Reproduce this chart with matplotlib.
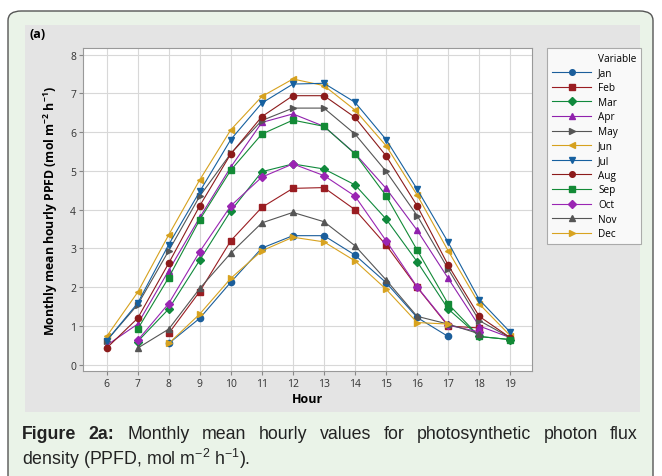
import matplotlib
matplotlib.use("Agg")
import matplotlib.pyplot as plt
from matplotlib.patches import FancyBboxPatch, Rectangle
from matplotlib.lines import Line2D
import numpy as np

nan = np.nan
hours = [6, 7, 8, 9, 10, 11, 12, 13, 14, 15, 16, 17, 18, 19]
months = ["Jan", "Feb", "Mar", "Apr", "May", "Jun", "Jul", "Aug", "Sep", "Oct", "Nov", "Dec"]

jan = [nan, nan, 0.55, 1.20, 2.13, 3.01, 3.33, 3.33, 2.83, 2.12, 1.22, 0.73, nan, nan]
feb = [nan, nan, 0.81, 1.89, 3.20, 4.06, 4.55, 4.57, 4.00, 3.09, 2.00, 1.00, 0.95, nan]
mar = [nan, 0.60, 1.44, 2.70, 3.97, 4.98, 5.18, 5.05, 4.64, 3.76, 2.66, 1.44, 0.73, 0.65]
apr = [0.50, 1.05, 2.43, 3.80, 5.10, 6.25, 6.47, 6.15, 5.45, 4.55, 3.47, 2.23, 1.00, 0.70]
may = [0.62, 1.55, 2.94, 4.35, 5.45, 6.30, 6.62, 6.62, 5.95, 4.99, 3.85, 2.47, 1.14, 0.70]
jun = [0.73, 1.87, 3.35, 4.77, 6.06, 6.92, 7.37, 7.20, 6.57, 5.65, 4.38, 2.94, 1.57, 0.75]
jul = [0.62, 1.59, 3.10, 4.47, 5.81, 6.75, 7.24, 7.26, 6.77, 5.81, 4.53, 3.16, 1.68, 0.84]
aug = [0.43, 1.20, 2.62, 4.10, 5.44, 6.40, 6.94, 6.94, 6.38, 5.39, 4.10, 2.57, 1.25, 0.70]
sep = [nan, 0.92, 2.25, 3.74, 5.02, 5.95, 6.31, 6.15, 5.44, 4.36, 2.96, 1.57, 0.73, 0.65]
oct_ = [nan, 0.63, 1.58, 2.92, 4.10, 4.84, 5.18, 4.88, 4.35, 3.20, 2.01, 1.02, 0.85, nan]
nov = [nan, 0.43, 0.92, 1.97, 2.88, 3.66, 3.93, 3.69, 3.07, 2.19, 1.25, 1.05, 0.80, nan]
dec = [nan, nan, 0.55, 1.31, 2.23, 2.94, 3.29, 3.17, 2.68, 1.95, 1.09, 1.05, nan, nan]
series = [jan, feb, mar, apr, may, jun, jul, aug, sep, oct_, nov, dec]

colors = ["#1b5e9b", "#9a1d22", "#10893c", "#9021ad", "#555555", "#d6a11e",
          "#16609f", "#8c1b1b", "#138a36", "#9a25b3", "#555555", "#d8a320"]
markers = ["o", "s", "D", "^", ">", "<", "v", "o", "s", "D", "^", ">"]
msizes = [4.5, 4.3, 4.0, 4.8, 4.8, 4.8, 4.8, 4.5, 4.3, 4.0, 4.8, 4.8]

plt.rcParams["font.family"] = ["Open Sans", "DejaVu Sans"]
plt.rcParams["mathtext.default"] = "regular"

W, H = 662, 477
fig = plt.figure(figsize=(W / 100, H / 100), dpi=100)
fig.patch.set_facecolor("white")

# outer rounded box and grey plot panel
fig.patches.append(FancyBboxPatch((8 / W, -0.2), 645 / W, (H - 12) / H + 0.2,
                                  boxstyle="round,pad=0,rounding_size=0.02",
                                  transform=fig.transFigure, facecolor="#eaf3e8",
                                  edgecolor="#555555", linewidth=1.0, zorder=-3))
fig.patches.append(Rectangle((25 / W, (H - 413) / H), 615 / W, 387 / H,
                             transform=fig.transFigure, facecolor="#e4e4e4",
                             edgecolor="none", zorder=-2))

ax = fig.add_axes([83 / W, (H - 372) / H, 449 / W, 323 / H])
ax.set_facecolor("white")
for s, c, m, ms, mo in zip(series, colors, markers, msizes, months):
    ax.plot(hours, s, color=c, marker=m, markersize=ms, linewidth=0.8, label=mo)

ax.set_xlim(5.24, 19.7)
ax.set_ylim(-0.16, 8.17)
ax.set_xticks(hours)
ax.set_yticks(range(0, 9))
ax.grid(True, color="#d8d8d8", linewidth=0.8)
ax.set_axisbelow(True)
ax.tick_params(labelsize=7.5, length=3, color="#888888", pad=2, labelcolor="#333333")
for sp in ax.spines.values():
    sp.set_color("#999999")
ax.set_xlabel("Hour", fontsize=9, fontweight="bold", labelpad=2)
ax.set_ylabel("Monthly mean hourly PPFD (mol m$^{-2}$ h$^{-1}$)", fontsize=8.8,
              fontweight="bold", labelpad=7)

handles, labels = ax.get_legend_handles_labels()
handles = [Line2D([], [], color="none")] + handles
labels = ["Variable"] + labels
leg = fig.legend(handles, labels, loc="upper left", bbox_to_anchor=(547 / W, (H - 49) / H),
                 fontsize=7.2, frameon=True, fancybox=False, edgecolor="#999999",
                 handlelength=3.9, handletextpad=0.7, labelspacing=0.36,
                 borderpad=0.5, borderaxespad=0, markerscale=0.9)
leg.get_frame().set_linewidth(0.8)

fig.text(30 / W, (H - 35) / H, "(a)", fontsize=9, fontweight="bold", va="center")

# caption, first line justified
cap_font = ["Liberation Sans", "DejaVu Sans"]
r = fig.canvas.get_renderer()
words = [("Figure", "bold"), ("2a:", "bold")] + [(w, "normal") for w in
         "Monthly mean hourly values for photosynthetic photon flux".split()]
texts = [fig.text(0, (H - 435) / H, w, fontweight=wt, fontsize=12.8, family=cap_font,
                  va="center", color="#222222") for w, wt in words]
widths = [t.get_window_extent(r).width for t in texts]
x0, x1 = 22, 638
gap = (x1 - x0 - sum(widths)) / (len(texts) - 1)
x = x0
for t, w in zip(texts, widths):
    t.set_x(x / W)
    x += w + gap
fig.text(x0 / W, (H - 459) / H, "density (PPFD, mol m$^{-2}$ h$^{-1}$).", fontsize=12.8,
         family=cap_font, va="center", color="#222222")

fig.savefig("out.png", dpi=100)
